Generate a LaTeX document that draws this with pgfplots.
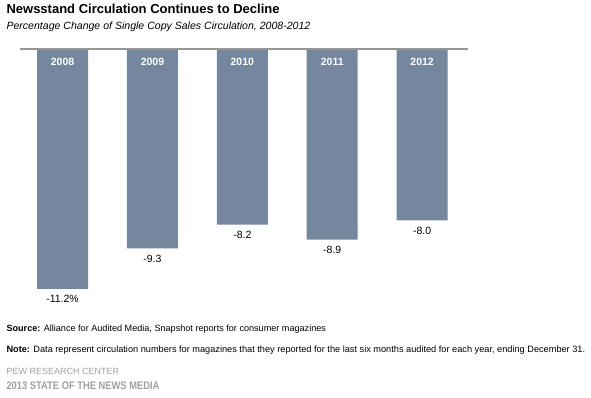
\documentclass[border=0pt]{standalone}
\usepackage{graphicx}
\usepackage{pgfplots}
\pgfplotsset{compat=1.18}
\usepackage{fontspec}
\setmainfont{Liberation Sans}
\definecolor{barc}{RGB}{117,135,158}
\definecolor{axc}{RGB}{150,150,150}
\definecolor{foot}{RGB}{160,160,160}
\newcommand{\pct}{\%}
\begin{document}
\begin{tikzpicture}
\path (0pt,0pt) rectangle (591pt,-398pt);
\node[anchor=west,font=\fontsize{13}{15}\selectfont\bfseries] at (3pt,-9pt) {Newsstand Circulation Continues to Decline};
\node[anchor=west,font=\fontsize{10.55}{12}\selectfont\itshape] at (3pt,-27pt) {Percentage Change of Single Copy Sales Circulation, 2008-2012};
\begin{axis}[
  at={(20pt,-49pt)}, anchor=north west,
  scale only axis, width=448pt, height=257.1pt,
  xmin=-0.473, xmax=4.51, ymin=-12, ymax=0,
  axis lines=none,
  ybar, bar width=51pt,
  point meta=explicit symbolic,
  nodes near coords,
  every node near coord/.append style={anchor=north, yshift=-3pt, font=\fontsize{10.5}{12}\selectfont, text=black},
  clip=false,
]
\addplot[fill=barc, draw=none, bar shift=0pt] table[meta=lab] {
x y lab
0 -11.2 -11.2\pct
1 -9.3 -9.3
2 -8.2 -8.2
3 -8.9 -8.9
4 -8.0 -8.0
};
\draw[axc, line width=1.5pt] (axis cs:-0.473,0) -- (axis cs:4.51,0);
\node[anchor=north, text=white, font=\fontsize{10.5}{12}\selectfont\bfseries] at ([yshift=-6pt]axis cs:0,0) {2008};
\node[anchor=north, text=white, font=\fontsize{10.5}{12}\selectfont\bfseries] at ([yshift=-6pt]axis cs:1,0) {2009};
\node[anchor=north, text=white, font=\fontsize{10.5}{12}\selectfont\bfseries] at ([yshift=-6pt]axis cs:2,0) {2010};
\node[anchor=north, text=white, font=\fontsize{10.5}{12}\selectfont\bfseries] at ([yshift=-6pt]axis cs:3,0) {2011};
\node[anchor=north, text=white, font=\fontsize{10.5}{12}\selectfont\bfseries] at ([yshift=-6pt]axis cs:4,0) {2012};
\end{axis}
\node[anchor=west,font=\fontsize{9.1}{11}\selectfont] at (3pt,-329pt) {\textbf{Source:} Alliance for Audited Media, Snapshot reports for consumer magazines};
\node[anchor=west,font=\fontsize{9.2}{11}\selectfont] at (3pt,-350pt) {\textbf{Note:} Data represent circulation numbers for magazines that they reported for the last six months audited for each year, ending December 31.};
\node[anchor=west,font=\fontsize{9}{11}\selectfont,text=foot] at (3pt,-371pt) {PEW RESEARCH CENTER};
\node[anchor=west,font=\fontsize{11}{13}\selectfont\bfseries,text=foot] at (3pt,-386pt) {\scalebox{0.85}[1]{2013 STATE OF THE NEWS MEDIA}};
\end{tikzpicture}
\end{document}
